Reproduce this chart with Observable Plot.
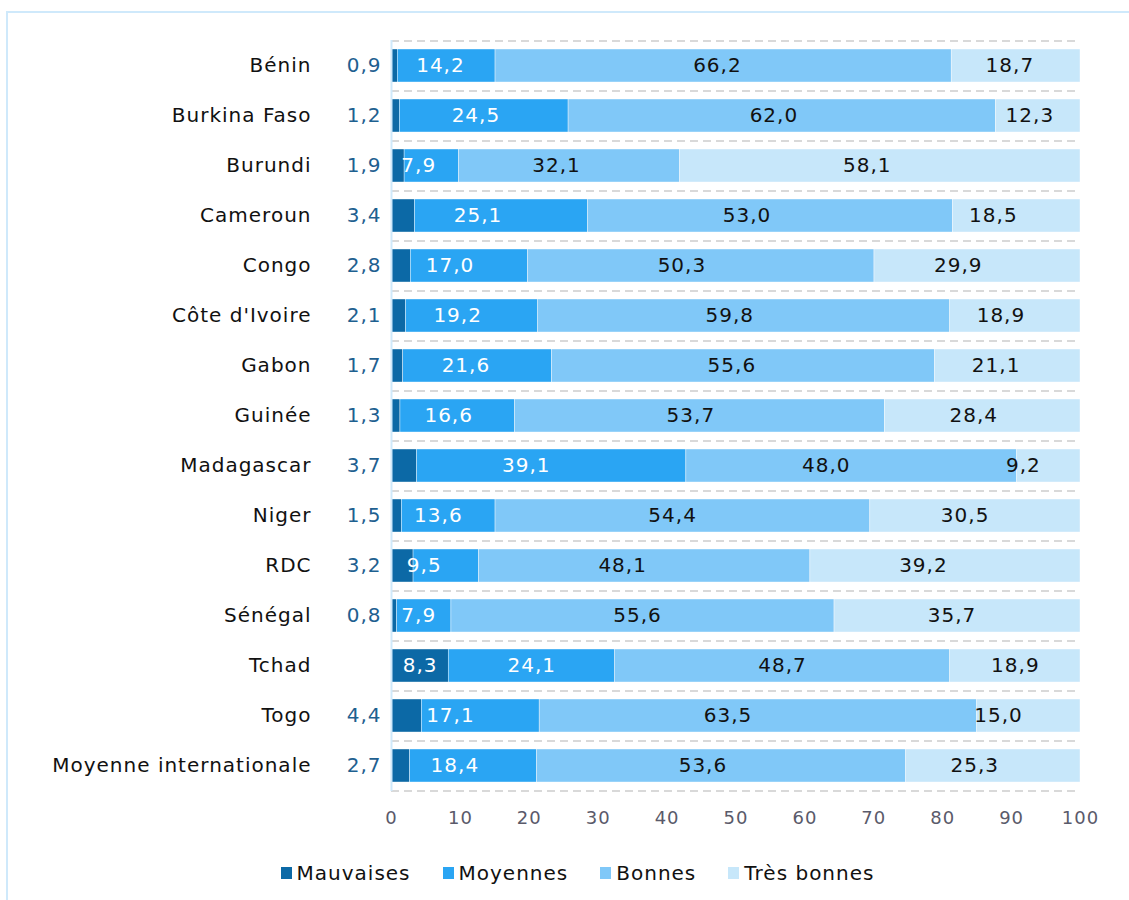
<!DOCTYPE html>
<html>
<head>
<meta charset="utf-8">
<script src="https://cdn.jsdelivr.net/npm/d3@7"></script>
<script src="https://cdn.jsdelivr.net/npm/@observablehq/plot@0.6"></script>
<style>
  html, body { margin: 0; padding: 0; background: #fff; }
  body { width: 1129px; height: 900px; position: relative; overflow: hidden; font-family: "DejaVu Sans", Verdana, sans-serif; }
  #frame { position: absolute; left: 6px; top: 11px; width: 1300px; height: 1000px; border-left: 2px solid #cfe9fb; border-top: 2px solid #cfe9fb; }
  #chart { position: absolute; left: 0; top: 0; }
  #chart svg text { letter-spacing: 1px; }
  #legend { position: absolute; left: 0; top: 861px; width: 1129px; display: flex; justify-content: center; gap: 32px; font-size: 20px; letter-spacing: 1px; color: #111; padding-left: 26px; box-sizing: border-box; }
  #legend .item { display: flex; align-items: center; gap: 5px; }
  #legend .sw { width: 11px; height: 12px; display: inline-block; }
</style>
</head>
<body>
<div id="frame"></div>
<div id="chart"></div>
<div id="legend"></div>
<script>
const countries = ["Bénin", "Burkina Faso", "Burundi", "Cameroun", "Congo", "Côte d'Ivoire", "Gabon", "Guinée", "Madagascar", "Niger", "RDC", "Sénégal", "Tchad", "Togo", "Moyenne internationale"];
const categories = ["Mauvaises", "Moyennes", "Bonnes", "Très bonnes"];
const mauvaises  = [0.9, 1.2, 1.9, 3.4, 2.8, 2.1, 1.7, 1.3, 3.7, 1.5, 3.2, 0.8, 8.3, 4.4, 2.7];
const moyennes   = [14.2, 24.5, 7.9, 25.1, 17.0, 19.2, 21.6, 16.6, 39.1, 13.6, 9.5, 7.9, 24.1, 17.1, 18.4];
const bonnes     = [66.2, 62.0, 32.1, 53.0, 50.3, 59.8, 55.6, 53.7, 48.0, 54.4, 48.1, 55.6, 48.7, 63.5, 53.6];
const tresBonnes = [18.7, 12.3, 58.1, 18.5, 29.9, 18.9, 21.1, 28.4, 9.2, 30.5, 39.2, 35.7, 18.9, 15.0, 25.3];
const xTicks = [0, 10, 20, 30, 40, 50, 60, 70, 80, 90, 100];
const colors = ["#0c69a6", "#2aa5f3", "#80c8f8", "#c7e7fa"];
const labelFill = ["#ffffff", "#ffffff", "#111111", "#111111"];

const series = [mauvaises, moyennes, bonnes, tresBonnes];
const data = [];
countries.forEach((c, i) => {
  categories.forEach((k, j) => {
    data.push({country: c, cat: k, ci: j, value: series[j][i]});
  });
});
const fmt = v => v.toFixed(1).replace(".", ",");

const width = 1129, height = 841;
const marginTop = 40, marginBottom = 50, marginLeft = 391, marginRight = 49;
const step = (height - marginTop - marginBottom) / countries.length;

const insideLabels = data.filter(d => !(d.ci === 0 && d.value < 5));
const outsideLabels = data.filter(d => d.ci === 0 && d.value < 5);

const chart = Plot.plot({
  width, height, marginTop, marginBottom, marginLeft, marginRight,
  style: {fontFamily: "DejaVu Sans, Verdana, sans-serif", fontSize: "20px", background: "transparent"},
  x: {domain: [0, 100], ticks: xTicks, label: null},
  y: {domain: countries, paddingInner: 0.34, paddingOuter: 0.17, label: null},
  color: {domain: categories, range: colors},
  marks: [
    Plot.ruleY(countries, {y: d => d, x1: 0, x2: 100, dy: -step / 2, stroke: "#d9d9d9", strokeWidth: 2, strokeDasharray: "8,5"}),
    Plot.ruleY(countries.slice(-1), {y: d => d, x1: 0, x2: 100, dy: step / 2, stroke: "#d9d9d9", strokeWidth: 2, strokeDasharray: "8,5"}),
    Plot.barX(data, Plot.stackX({x: "value", y: "country", fill: "cat", order: categories, stroke: "#ffffff", strokeWidth: 0.4})),
    Plot.ruleX([0], {stroke: "#cfe9fb", strokeWidth: 2}),
    Plot.text(insideLabels, Plot.stackX({x: "value", y: "country", z: "cat", order: categories, text: d => fmt(d.value), fill: d => labelFill[d.ci], fontSize: 20})),
    Plot.text(outsideLabels, {x: 0, y: "country", text: d => fmt(d.value), textAnchor: "end", dx: -10, fill: "#1e6090", fontSize: 20}),
    Plot.axisY({tickSize: 0, tickPadding: 80, fontSize: 20, color: "#111", label: null}),
    Plot.axisX({ticks: xTicks, tickSize: 0, tickPadding: 20, fontSize: 18, color: "#5a5a6a", label: null})
  ]
});
document.getElementById("chart").appendChild(chart);

const legend = document.getElementById("legend");
categories.forEach((k, j) => {
  const it = document.createElement("div");
  it.className = "item";
  const sw = document.createElement("span");
  sw.className = "sw";
  sw.style.background = colors[j];
  const t = document.createElement("span");
  t.textContent = k;
  it.appendChild(sw);
  it.appendChild(t);
  legend.appendChild(it);
});
</script>
</body>
</html>
